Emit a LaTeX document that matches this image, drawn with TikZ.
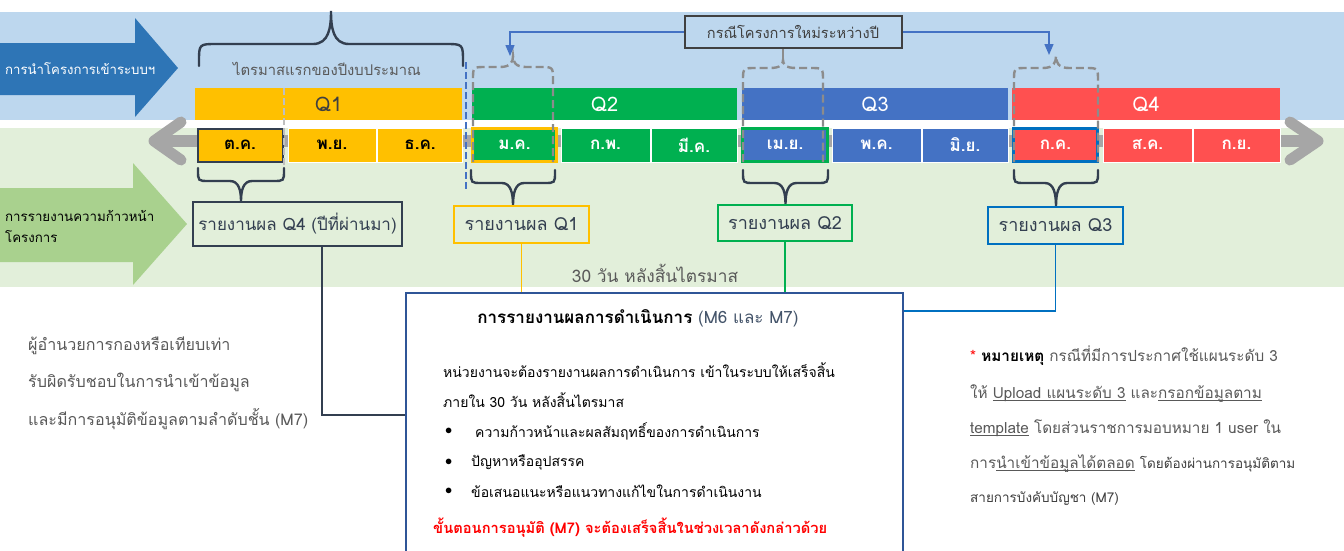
\documentclass[tikz,border=0pt]{standalone}
\usepackage{fontspec}
\setmainfont{Loma}[Script=Thai]
\usetikzlibrary{arrows.meta,calc}
\definecolor{bgblue}{HTML}{BDD7EE}
\definecolor{bggreen}{HTML}{E2EFDA}
\definecolor{arrowblue}{HTML}{2E75B6}
\definecolor{arrowgreen}{HTML}{A9D18E}
\definecolor{arrowgray}{HTML}{A6A6A6}
\definecolor{qyellow}{HTML}{FFC000}
\definecolor{qgreen}{HTML}{00B050}
\definecolor{qblue}{HTML}{4472C4}
\definecolor{qred}{HTML}{FF5050}
\definecolor{navy}{HTML}{333F50}
\definecolor{txtgray}{HTML}{595959}
\definecolor{darkgray}{HTML}{404040}
\definecolor{linkblue}{HTML}{4472C4}
\definecolor{q3blue}{HTML}{0070C0}
\definecolor{boxblue}{HTML}{2F5597}
\definecolor{dashgray}{HTML}{8C8C8C}
\definecolor{lightdash}{HTML}{BFBFBF}
\definecolor{titlegray}{HTML}{44546A}
\definecolor{notered}{HTML}{FF0000}
\newcommand{\myfs}[1]{\fontsize{#1}{#1}\selectfont}
\newcommand{\myul}[1]{\underline{\smash{#1}}}
\newcommand{\mybrace}[7]{%
 \pgfmathsetmacro\bxm{(#2+#3)/2}%
 \pgfmathsetmacro\bya{#5+#7*sign(#4-#5)}%
 \pgfmathsetmacro\byb{(#5+#6)/2}%
 \draw[#1] (#2,#4) -- (#2,\bya) .. controls (#2,#5) .. (#2+#7,#5) -- (\bxm-#7,#5) .. controls (\bxm-2,#5) and (\bxm,\byb) .. (\bxm,#6) .. controls (\bxm,\byb) and (\bxm+2,#5) .. (\bxm+#7,#5) -- (#3-#7,#5) .. controls (#3,#5) .. (#3,\bya) -- (#3,#4);}
\begin{document}
\begin{tikzpicture}[x=1pt,y=-1pt,
  qbar/.style={minimum height=32pt,inner sep=0pt,anchor=center,font=\myfs{20}},
  month/.style={minimum height=34pt,inner sep=0pt,draw=white,line width=0.8pt,font=\myfs{17}\bfseries},
  navybrace/.style={draw=navy,line width=2.4pt,line cap=round},
  graybrace/.style={draw=dashgray,line width=2.4pt,dash pattern=on 8pt off 4pt},
  report/.style={draw,line width=2pt,fill=bggreen,inner sep=0pt,text=navy,font=\myfs{18}},
  link/.style={draw=linkblue,line width=1.4pt,-{Triangle[width=9pt,length=11pt]}},
  plain/.style={inner sep=0pt,anchor=west}]
\useasboundingbox (0,0) rectangle (1344,550);
\clip (0,0) rectangle (1344,550);
\fill[white] (0,0) rectangle (1344,550);
% bands
\fill[bgblue] (0,12) rectangle (1344,120);
\fill[bggreen] (0,128) rectangle (1344,287);
% left arrows
\fill[arrowblue] (0,43) -- (135,43) -- (135,18) -- (178,68) -- (135,117) -- (135,95) -- (0,95) -- cycle;
\node[plain,text=white,font=\myfs{13.2}] (lblA) at (5,69) {การนำโครงการเข้าระบบฯ};
\fill[arrowgreen] (0,188) -- (133,188) -- (133,163) -- (187,224) -- (133,285) -- (133,262) -- (0,262) -- cycle;
\node[plain,text=black,font=\myfs{13.3}] (lblB1) at (5,216) {การรายงานความก้าวหน้า};
\node[plain,text=black,font=\myfs{13.3}] (lblB2) at (5,237) {โครงการ};
% gray double arrow
\draw[arrowgray,line width=12pt] (160,141) -- (1312,141);
\draw[arrowgray,line width=11pt,line cap=round,line join=round] (181,122) -- (154,141) -- (181,160);
\draw[arrowgray,line width=11pt,line cap=round,line join=round] (1290,122) -- (1318,141) -- (1290,160);
% quarter bars
\node[qbar,fill=qyellow,minimum width=267pt,text=darkgray] (q1) at (328.5,104) {Q1};
\node[qbar,fill=qgreen,minimum width=265pt,text=white] (q2) at (604.5,104) {Q2};
\node[qbar,fill=qblue,minimum width=266pt,text=white] (q3) at (875,104) {Q3};
\node[qbar,fill=qred,minimum width=268pt,text=white] (q4) at (1146,104) {Q4};
% months
\node[month,fill=qyellow,minimum width=88pt,text=black] (m1) at (332,145) {พ.ย.};
\node[month,fill=qyellow,minimum width=85pt,text=black] (m2) at (420,145) {ธ.ค.};
\node[month,fill=qgreen,minimum width=89pt,text=white] (m4) at (605.5,145) {ก.พ.};
\node[month,fill=qgreen,minimum width=86pt,text=white] (m5) at (694,145) {มี.ค.};
\node[month,fill=qblue,minimum width=89pt,text=white] (m7) at (876.5,145) {พ.ค.};
\node[month,fill=qblue,minimum width=86pt,text=white] (m8) at (965,145) {มิ.ย.};
\node[month,fill=qred,minimum width=89pt,text=white] (m10) at (1147.5,145) {ส.ค.};
\node[month,fill=qred,minimum width=87pt,text=white] (m11) at (1236.5,145) {ก.ย.};
\node[month,fill=qyellow,draw=navy,line width=2pt,minimum width=85pt,minimum height=33pt,text=black] (m0) at (240,145) {ต.ค.};
\node[month,fill=qgreen,draw=qyellow,line width=2.4pt,minimum width=84pt,minimum height=33pt,text=white] (m3) at (514.5,145) {ม.ค.};
\node[month,fill=qblue,draw=qgreen,line width=2.4pt,minimum width=85pt,minimum height=33pt,text=white] (m6) at (785,145) {เม.ย.};
\node[month,fill=qred,draw=q3blue,line width=2.2pt,minimum width=84pt,minimum height=33pt,text=white] (m9) at (1055.5,145) {ก.ค.};
% light gray dashed line in Q1
\draw[lightdash,line width=2pt,dash pattern=on 7pt off 3pt] (284,88) -- (284,172);
% blue dashed separator
\draw[linkblue,line width=2.2pt,dash pattern=on 7pt off 3pt] (466,62) -- (466,192);
% top brace Q1
\mybrace{navybrace}{199}{463}{66}{44}{11}{18}
\node[text=txtgray,inner sep=0pt,font=\myfs{14.8}] (firstq) at (327,69) {ไตรมาสแรกของปีงบประมาณ};
% gray dashed braces
\mybrace{graybrace}{473}{553}{162}{67}{56}{13}
\mybrace{graybrace}{743}{823}{162}{68}{60}{13}
\mybrace{graybrace}{1014}{1098}{162}{68}{56}{13}
% new project box
\node[draw=darkgray,line width=2pt,fill=bgblue,minimum width=217pt,minimum height=32pt,inner sep=0pt,text=darkgray,font=\myfs{14.6}] (newcase) at (793,32) {กรณีโครงการใหม่ระหว่างปี};
\coordinate (tipq3) at (783,60);
\draw[dashgray,line width=2.4pt] (tipq3) -- (tipq3 |- newcase.south);
\draw[link] (newcase.west) -| (510,56);
\draw[link] (newcase.east) -| (1049,55);
% lower braces
\mybrace{navybrace}{198}{284}{168}{181}{201}{11}
\mybrace{navybrace}{471}{555}{170}{183}{205}{11}
\mybrace{navybrace}{743}{828}{170}{183}{204}{11}
\mybrace{navybrace}{1014}{1098}{170}{183}{206}{11}
% report boxes
\node[report,draw=navy,minimum width=209pt,minimum height=44pt,font=\myfs{17}] (rq4) at (297.5,224) {รายงานผล Q4 (ปีที่ผ่านมา)};
\node[report,draw=qyellow,minimum width=135pt,minimum height=37pt] (rq1) at (521.5,224) {รายงานผล Q1};
\node[report,draw=qgreen,minimum width=134pt,minimum height=36pt] (rq2) at (785,223) {รายงานผล Q2};
\node[report,draw=q3blue,minimum width=135pt,minimum height=37pt] (rq3) at (1055.5,225) {รายงานผล Q3};
\node[text=txtgray,inner sep=0pt,font=\myfs{17.3}] (days) at (655,273) {30 วัน หลังสิ้นไตรมาส};
% main box
\node[draw=boxblue,line width=2pt,fill=white,minimum width=497pt,minimum height=300pt,anchor=north west,inner sep=0pt] (mainbox) at (405,292) {};
\draw[navy,line width=1.6pt] ([xshift=24.5pt]rq4.south) |- ([yshift=-123pt]mainbox.north west);
\draw[qyellow,line width=1.6pt] (rq1.south) -- (rq1.south |- mainbox.north);
\draw[qgreen,line width=1.6pt] (rq2.south) -- (rq2.south |- mainbox.north);
\draw[q3blue,line width=1.6pt] (rq3.south) |- ([yshift=-19pt]mainbox.north east);
\node[inner sep=0pt,font=\myfs{17}] (mtitle) at (638,318) {{\bfseries การรายงานผลการดำเนินการ} {\color{titlegray}(M6 และ M7)}};
\node[plain,text=black,font=\myfs{14}] (body1) at (443,370) {หน่วยงานจะต้องรายงานผลการดำเนินการ เข้าในระบบให้เสร็จสิ้น};
\node[plain,text=black,font=\myfs{14}] (body2) at (443,400) {ภายใน 30 วัน หลังสิ้นไตรมาส};
\node[plain,text=black,font=\myfs{15}] (bul1) at (445,431) {$\bullet$};
\node[plain,text=black,font=\myfs{15}] (bul2) at (445,462) {$\bullet$};
\node[plain,text=black,font=\myfs{15}] (bul3) at (445,491) {$\bullet$};
\node[plain,text=black,font=\myfs{14}] (item1) at (475,431) {ความก้าวหน้าและผลสัมฤทธิ์ของการดำเนินการ};
\node[plain,text=black,font=\myfs{14}] (item2) at (471,462) {ปัญหาหรืออุปสรรค};
\node[plain,text=black,font=\myfs{14}] (item3) at (471,491) {ข้อเสนอแนะหรือแนวทางแก้ไขในการดำเนินงาน};
\node[plain,text=notered,font=\myfs{14.7}\bfseries] (redline) at (433,528) {ขั้นตอนการอนุมัติ (M7) จะต้องเสร็จสิ้นในช่วงเวลาดังกล่าวด้วย};
% left text
\node[plain,text=txtgray,font=\myfs{16.1}] (left1) at (28,346) {ผู้อำนวยการกองหรือเทียบเท่า};
\node[plain,text=txtgray,font=\myfs{16.1}] (left2) at (28,382) {รับผิดรับชอบในการนำเข้าข้อมูล};
\node[plain,text=txtgray,font=\myfs{16.1}] (left3) at (28,419) {และมีการอนุมัติข้อมูลตามลำดับชั้น (M7)};
% right note
\node[plain,text=txtgray,font=\myfs{15.3}] (note1) at (970,356) {{\color{notered}*} {\bfseries\color{black}หมายเหตุ} กรณีที่มีการประกาศใช้แผนระดับ 3};
\node[plain,text=txtgray,font=\myfs{15.3}] (note2) at (970,393) {ให้ \myul{Upload แผนระดับ 3} และ\myul{กรอกข้อมูลตาม}};
\node[plain,text=txtgray,font=\myfs{15.3}] (note3) at (970,428) {\myul{template} โดยส่วนราชการมอบหมาย 1 user ใน};
\node[plain,text=txtgray,font=\myfs{15.3}] (note4) at (970,464) {การ\myul{นำเข้าข้อมูลได้ตลอด} {\color{darkgray}\myfs{13.5}โดยต้องผ่านการอนุมัติตาม}};
\node[plain,text=darkgray,font=\myfs{13.5}] (note5) at (970,499) {สายการบังคับบัญชา (M7)};
\end{tikzpicture}
\end{document}
